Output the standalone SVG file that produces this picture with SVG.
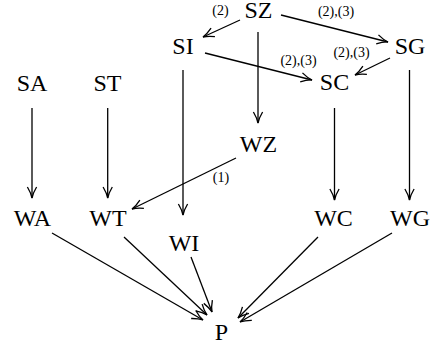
<svg xmlns="http://www.w3.org/2000/svg" width="441" height="344" viewBox="0 0 441 344">
<style>
.n{font-family:'Liberation Serif','Times New Roman',serif;font-size:24px;fill:#000;text-anchor:middle}
.l{font-family:'Liberation Serif','Times New Roman',serif;font-size:14px;fill:#000;text-anchor:middle}
.e{stroke:#000;stroke-width:1.3;fill:none;marker-end:url(#ah)}
</style>
<defs>
<marker id="ah" markerUnits="userSpaceOnUse" viewBox="-13 -6 15 12" refX="0" refY="0" markerWidth="15" markerHeight="12" orient="auto">
<path d="M-11,-4.6 Q-5,-1 0,0 Q-5,1 -11,4.6" fill="none" stroke="#000" stroke-width="1.3"/>
</marker>
</defs>
<rect width="441" height="344" fill="#fff"/>
<g id="edges">
<line class="e" x1="240" y1="20" x2="203" y2="37"/>
<line class="e" x1="281" y1="15" x2="388" y2="42"/>
<line class="e" x1="258" y1="32" x2="258" y2="123"/>
<line class="e" x1="205" y1="53" x2="312" y2="80"/>
<line class="e" x1="390" y1="58" x2="355" y2="75"/>
<line class="e" x1="183" y1="70" x2="183" y2="215"/>
<line class="e" x1="334.5" y1="108" x2="334.5" y2="200"/>
<line class="e" x1="409.5" y1="70" x2="409.5" y2="200"/>
<line class="e" x1="32" y1="108" x2="32" y2="198"/>
<line class="e" x1="107.7" y1="108" x2="107.7" y2="198"/>
<line class="e" x1="236" y1="158" x2="132" y2="209"/>
<line class="e" x1="52" y1="233" x2="203" y2="320"/>
<line class="e" x1="124" y1="237" x2="207" y2="315"/>
<line class="e" x1="191" y1="257" x2="212" y2="312"/>
<line class="e" x1="318" y1="237" x2="238" y2="318"/>
<line class="e" x1="392" y1="233" x2="240" y2="322"/>
<text class="l" x="220.5" y="14.5">(2)</text>
<text class="l" x="336" y="15.5">(2),(3)</text>
<text class="l" x="351.5" y="57">(2),(3)</text>
<text class="l" x="298.5" y="64.5">(2),(3)</text>
<text class="l" x="221" y="182">(1)</text>
</g>
<g id="SZ"><text class="n" x="258.5" y="17.5">SZ</text></g>
<g id="SI"><text class="n" x="183" y="54">SI</text></g>
<g id="SG"><text class="n" x="410" y="54">SG</text></g>
<g id="SC"><text class="n" x="334.5" y="90">SC</text></g>
<g id="SA"><text class="n" x="32" y="91">SA</text></g>
<g id="ST"><text class="n" x="107.5" y="91">ST</text></g>
<g id="WZ"><text class="n" x="258.5" y="152">WZ</text></g>
<g id="WA"><text class="n" x="32.5" y="226">WA</text></g>
<g id="WT"><text class="n" x="108" y="226">WT</text></g>
<g id="WI"><text class="n" x="184" y="251">WI</text></g>
<g id="WC"><text class="n" x="333.5" y="226">WC</text></g>
<g id="WG"><text class="n" x="410" y="226">WG</text></g>
<g id="P"><text class="n" x="221.5" y="340">P</text></g>
</svg>
